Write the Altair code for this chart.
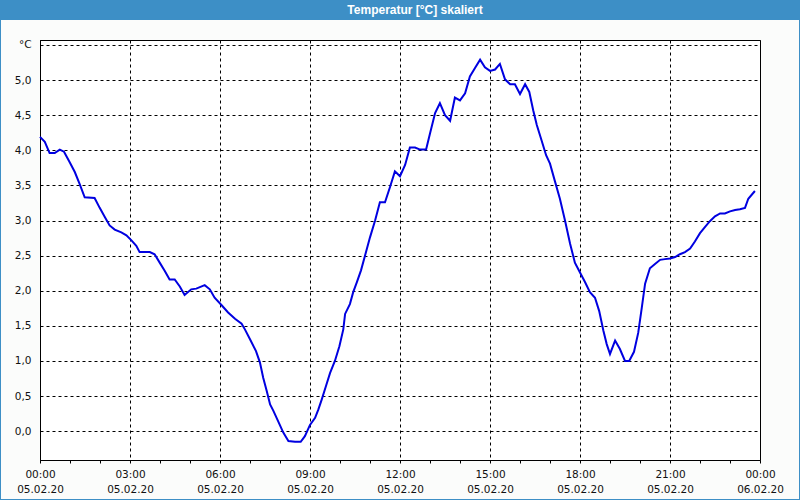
import altair as alt
import pandas as pd

hours = [0.0, 0.16, 0.32, 0.49, 0.66, 0.8, 0.99, 1.16, 1.32, 1.49, 1.82, 1.99, 2.16, 2.32, 2.49,
         2.71, 2.88, 3.04, 3.21, 3.32, 3.66, 3.82, 3.99, 4.16, 4.32, 4.49, 4.66, 4.82, 5.04, 5.21,
         5.49, 5.66, 5.82, 6.04, 6.27, 6.5, 6.72, 6.83, 7.0, 7.2, 7.33, 7.44, 7.56, 7.67, 7.78,
         7.94, 8.11, 8.28, 8.5, 8.69, 8.83, 9.0, 9.17, 9.28, 9.39, 9.53, 9.67, 9.83, 9.98, 10.11,
         10.17, 10.33, 10.44, 10.56, 10.7, 11.0, 11.17, 11.33, 11.5, 11.67, 11.83, 12.0, 12.17,
         12.33, 12.5, 12.67, 12.87, 13.0, 13.17, 13.33, 13.5, 13.67, 13.83, 14.0, 14.17, 14.33,
         14.5, 14.67, 14.83, 15.0, 15.17, 15.33, 15.5, 15.67, 15.83, 16.0, 16.17, 16.31, 16.44,
         16.56, 16.72, 16.87, 17.0, 17.17, 17.33, 17.5, 17.67, 17.83, 18.0, 18.17, 18.33, 18.5,
         18.64, 18.78, 18.89, 19.0, 19.17, 19.33, 19.5, 19.64, 19.8, 19.94, 20.06, 20.17, 20.33,
         20.5, 20.67, 20.83, 21.0, 21.17, 21.33, 21.5, 21.67, 21.83, 22.0, 22.17, 22.33, 22.5,
         22.67, 22.83, 23.0, 23.17, 23.33, 23.5, 23.61, 23.83]
temps = [4.19, 4.12, 3.96, 3.96, 4.01, 3.98, 3.83, 3.69, 3.52, 3.33, 3.32, 3.18, 3.05, 2.93, 2.87,
         2.83, 2.79, 2.72, 2.64, 2.55, 2.55, 2.52, 2.40, 2.28, 2.16, 2.16, 2.06, 1.94, 2.02, 2.03,
         2.08, 2.02, 1.90, 1.80, 1.69, 1.60, 1.53, 1.45, 1.31, 1.14, 0.98, 0.76, 0.57, 0.38, 0.29,
         0.14, -0.02, -0.14, -0.15, -0.15, -0.07, 0.09, 0.19, 0.31, 0.45, 0.64, 0.83, 1.00, 1.21, 1.45,
         1.67, 1.81, 1.98, 2.12, 2.29, 2.76, 3.00, 3.26, 3.26, 3.48, 3.70, 3.63, 3.79,
         4.04, 4.04, 4.01, 4.01, 4.24, 4.53, 4.67, 4.50, 4.42, 4.75, 4.71, 4.81, 5.05,
         5.17, 5.29, 5.18, 5.13, 5.15, 5.23, 5.01, 4.94, 4.94, 4.80, 4.94, 4.83, 4.57,
         4.36, 4.14, 3.93, 3.81, 3.55, 3.31, 3.00, 2.67, 2.40, 2.26, 2.12, 1.98, 1.90,
         1.71, 1.43, 1.24, 1.10, 1.29, 1.17, 1.00, 1.00, 1.13, 1.40, 1.76, 2.10, 2.32,
         2.38, 2.44, 2.45, 2.46, 2.48, 2.52, 2.55, 2.60, 2.70, 2.82, 2.91, 2.99, 3.06,
         3.10, 3.10, 3.13, 3.15, 3.16, 3.18, 3.31, 3.42]

x_ticks = list(range(0, 25))
y_ticks = [0, 0.5, 1, 1.5, 2, 2.5, 3, 3.5, 4, 4.5, 5, 5.5]
title_text = "Temperatur [°C] skaliert"

df = pd.DataFrame({"h": hours, "t": temps})

FONT = "DejaVu Sans"
TFONT = "Liberation Sans"
BLUE_BAR = "#3d8fc6"

x_axis = alt.Axis(
    values=x_ticks,
    title=None,
    grid=True,
    gridColor="black",
    gridDash=[3, 3],
    gridOpacity={"condition": {"test": "datum.value % 3 === 0", "value": 1}, "value": 0},
    ticks=True,
    tickSize=3,
    tickColor="black",
    domain=True,
    domainColor="black",
    labelExpr="datum.value % 3 === 0 ? [format(datum.value % 24, '02d') + ':00', datum.value >= 24 ? '06.02.20' : '05.02.20'] : ''",
    labelFont=FONT,
    labelFontSize=10.5,
    labelColor="#111111",
    labelPadding=6,
    labelBaseline="top",
    labelLineHeight=15,
    labelFlush=False,
    labelOverlap=False,
    labelBound=False,
)

y_axis = alt.Axis(
    values=y_ticks,
    title=None,
    grid=True,
    gridColor="black",
    gridDash=[3, 3],
    ticks=False,
    tickSize=0,
    domain=True,
    domainColor="black",
    labelExpr="datum.value >= 5.5 ? '°C' : replace(format(datum.value, '.1f'), '.', ',')",
    labelFont=FONT,
    labelFontSize=10.5,
    labelColor="#111111",
    labelPadding=9,
)

line = alt.Chart(df).mark_line(color="#0000e0", strokeWidth=2).encode(
    x=alt.X("h:Q", scale=alt.Scale(domain=[0, 24], nice=False, zero=False), axis=x_axis),
    y=alt.Y("t:Q", scale=alt.Scale(domain=[-0.41, 5.57], nice=False, zero=False), axis=y_axis),
)

one = pd.DataFrame({"a": [0]})
bar = alt.Chart(one).mark_rect(color=BLUE_BAR).encode(
    x=alt.value(-40), x2=alt.value(760), y=alt.value(-40), y2=alt.value(-20)
)
frame = alt.Chart(one).mark_rect(fill=None, stroke=BLUE_BAR, strokeWidth=2).encode(
    x=alt.value(-40), x2=alt.value(760), y=alt.value(-40), y2=alt.value(460)
)
title = alt.Chart(one).mark_text(
    text=title_text, color="white", font=TFONT, fontSize=12, fontWeight="bold",
    align="center", baseline="middle"
).encode(x=alt.value(375), y=alt.value(-30))

chart = alt.layer(bar, frame, title, line).properties(
    width=720, height=420,
    autosize=alt.AutoSizeParams(type="none"),
    padding={"left": 40, "top": 40, "right": 40, "bottom": 40},
    background="#fbfcfb",
).configure_view(fill="white", stroke="black", strokeWidth=1)

chart.save("out.html", embed_options={"renderer": "svg", "actions": False})
